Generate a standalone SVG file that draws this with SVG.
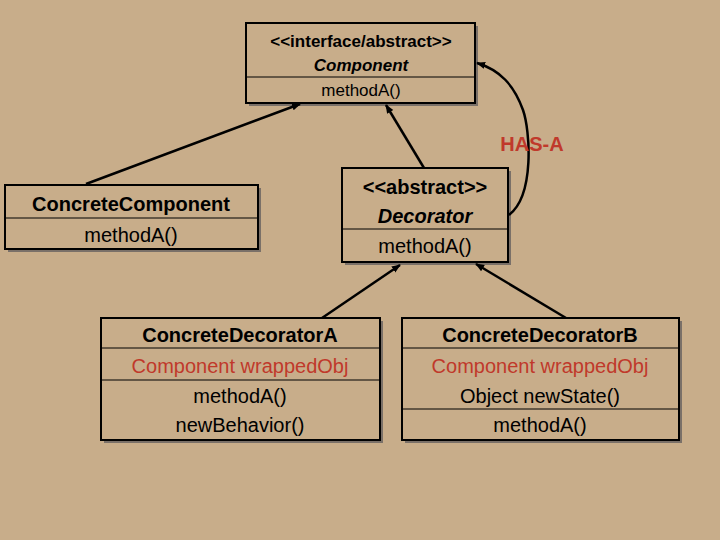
<svg xmlns="http://www.w3.org/2000/svg" width="720" height="540" viewBox="0 0 720 540">
<defs>
<marker id="ah" viewBox="0 0 10 10" refX="9" refY="5" markerWidth="9" markerHeight="9" markerUnits="userSpaceOnUse" orient="auto"><path d="M0,1 L10,5 L0,9 z" fill="#000"/></marker>
<style>
.box{fill:#C8AD8A;stroke:#000;stroke-width:2}
.sh{fill:#7a7068}
.dv{stroke:#000;stroke-width:1}
.t{font-family:"Liberation Sans",Arial,sans-serif;text-anchor:middle;fill:#000}
.r{fill:#C0392B}
.c{stroke:#000;stroke-width:2.5;fill:none;marker-end:url(#ah)}
</style>
</defs>
<rect width="720" height="540" fill="#C8AD8A"/>
<g id="component">
<rect class="sh" x="249" y="26" width="229" height="80"/>
<rect class="box" x="246" y="23" width="229" height="80"/>
<line class="dv" x1="246" y1="77" x2="475" y2="77"/>
<text class="t" x="361" y="47" font-size="17" font-weight="bold">&lt;&lt;interface/abstract&gt;&gt;</text>
<text class="t" x="361" y="71" font-size="17" font-weight="bold" font-style="italic">Component</text>
<text class="t" x="361" y="96" font-size="17">methodA()</text>
</g>
<g id="concreteComponent">
<rect class="sh" x="8" y="188" width="253" height="64"/>
<rect class="box" x="5" y="185" width="253" height="64"/>
<line class="dv" x1="5" y1="218" x2="258" y2="218"/>
<text class="t" x="131" y="211" font-size="20" font-weight="bold">ConcreteComponent</text>
<text class="t" x="131" y="242" font-size="20">methodA()</text>
</g>
<g id="decorator">
<rect class="sh" x="345" y="171" width="166" height="94"/>
<rect class="box" x="342" y="168" width="166" height="94"/>
<line class="dv" x1="342" y1="229" x2="508" y2="229"/>
<text class="t" x="425" y="194" font-size="20" font-weight="bold">&lt;&lt;abstract&gt;&gt;</text>
<text class="t" x="425" y="223" font-size="20" font-weight="bold" font-style="italic">Decorator</text>
<text class="t" x="425" y="253" font-size="20">methodA()</text>
</g>
<g id="decoratorA">
<rect class="sh" x="104" y="321" width="279" height="122"/>
<rect class="box" x="101" y="318" width="279" height="122"/>
<line class="dv" x1="101" y1="348" x2="380" y2="348"/>
<line class="dv" x1="101" y1="380" x2="380" y2="380"/>
<text class="t" x="240" y="342" font-size="20" font-weight="bold">ConcreteDecoratorA</text>
<text class="t r" x="240" y="373" font-size="20">Component wrappedObj</text>
<text class="t" x="240" y="403" font-size="20">methodA()</text>
<text class="t" x="240" y="432" font-size="20">newBehavior()</text>
</g>
<g id="decoratorB">
<rect class="sh" x="405" y="321" width="277" height="122"/>
<rect class="box" x="402" y="318" width="277" height="122"/>
<line class="dv" x1="402" y1="348" x2="679" y2="348"/>
<line class="dv" x1="402" y1="409" x2="679" y2="409"/>
<text class="t" x="540" y="342" font-size="20" font-weight="bold">ConcreteDecoratorB</text>
<text class="t r" x="540" y="373" font-size="20">Component wrappedObj</text>
<text class="t" x="540" y="403" font-size="20">Object newState()</text>
<text class="t" x="540" y="432" font-size="20">methodA()</text>
</g>
<g id="connectors">
<line class="c" x1="86" y1="184" x2="300" y2="104"/>
<line class="c" x1="424" y1="168" x2="386" y2="105"/>
<line class="c" x1="322" y1="318" x2="400" y2="265"/>
<line class="c" x1="566" y1="318" x2="476" y2="264"/>
<path class="c" d="M509,215 C535,195 530,130 523,110 C514,85 500,70 477,63"/>
<text class="t r" x="532" y="151" font-size="20" font-weight="bold">HAS-A</text>
</g>
</svg>
